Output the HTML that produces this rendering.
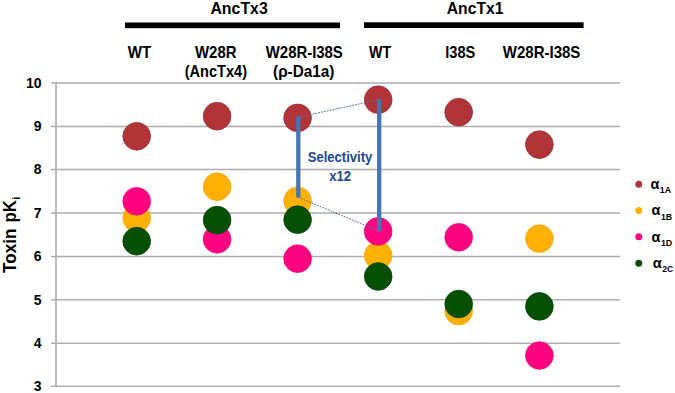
<!DOCTYPE html>
<html>
<head>
<meta charset="utf-8">
<style>
html,body{margin:0;padding:0;background:#fff;}
body{width:675px;height:393px;overflow:hidden;position:relative;font-family:"Liberation Sans",sans-serif;}
svg{position:absolute;left:0;top:0;}
text{font-family:"Liberation Sans",sans-serif;font-weight:bold;}
</style>
</head>
<body>
<svg width="675" height="393" viewBox="0 0 675 393">
  <rect x="125" y="22.5" width="215" height="5.7" fill="#000"/>
  <rect x="364" y="22.3" width="219.6" height="5.7" fill="#000"/>
    <text x="210.4" y="14.4" font-size="16.5" textLength="57.37" lengthAdjust="spacingAndGlyphs" fill="#000">AncTx3</text>
  <text x="446.81" y="14.4" font-size="16.5" textLength="56.63" lengthAdjust="spacingAndGlyphs" fill="#000">AncTx1</text>
  <text x="127.79" y="57.5" font-size="15.9" textLength="23.38" lengthAdjust="spacingAndGlyphs" fill="#000">WT</text>
  <text x="194.99" y="57.5" font-size="15.9" textLength="41.52" lengthAdjust="spacingAndGlyphs" fill="#000">W28R</text>
  <text x="184.78" y="76.5" font-size="15.9" textLength="62.25" lengthAdjust="spacingAndGlyphs" fill="#000">(AncTx4)</text>
  <text x="265.79" y="57.5" font-size="15.9" textLength="77.0" lengthAdjust="spacingAndGlyphs" fill="#000">W28R-I38S</text>
  <text x="273.04" y="76.5" font-size="15.9" textLength="61.32" lengthAdjust="spacingAndGlyphs" fill="#000">(ρ-Da1a)</text>
  <text x="368.99" y="57.6" font-size="15.9" textLength="22.17" lengthAdjust="spacingAndGlyphs" fill="#000">WT</text>
  <text x="445.22" y="57.6" font-size="15.9" textLength="30.05" lengthAdjust="spacingAndGlyphs" fill="#000">I38S</text>
  <text x="502.79" y="57.6" font-size="15.9" textLength="77.6" lengthAdjust="spacingAndGlyphs" fill="#000">W28R-I38S</text>
  <text x="307.82" y="162.4" font-size="14" textLength="64.45" lengthAdjust="spacingAndGlyphs" fill="#1a4793">Selectivity</text>
  <text x="329.31" y="180.7" font-size="14" textLength="21.81" lengthAdjust="spacingAndGlyphs" fill="#1a4793">x12</text>
  <line x1="56" y1="82.3" x2="56" y2="386.8" stroke="#bcbcbc" stroke-width="2"/>
  <g stroke="#adadad" stroke-width="1.5">
    <line x1="51" y1="83.0" x2="620" y2="83.0"/>
    <line x1="51" y1="126.5" x2="620" y2="126.5"/>
    <line x1="51" y1="169.5" x2="620" y2="169.5"/>
    <line x1="51" y1="213.0" x2="620" y2="213.0"/>
    <line x1="51" y1="256.6" x2="620" y2="256.6"/>
    <line x1="51" y1="299.8" x2="620" y2="299.8"/>
    <line x1="51" y1="343.2" x2="620" y2="343.2"/>
    <line x1="51" y1="386.3" x2="620" y2="386.3"/>
  </g>
  <g font-size="14" text-anchor="end" fill="#000">
    <text x="41.6" y="87.8">10</text>
    <text x="41.6" y="131.3">9</text>
    <text x="41.6" y="174.3">8</text>
    <text x="41.6" y="217.8">7</text>
    <text x="41.6" y="261.4">6</text>
    <text x="41.6" y="304.6">5</text>
    <text x="41.6" y="348.0">4</text>
    <text x="41.6" y="391.1">3</text>
  </g>
  <text transform="translate(15.8,272.8) rotate(-90)" x="-0.19" y="0" font-size="18.6" textLength="44.32" lengthAdjust="spacingAndGlyphs">Toxin</text>
  <text transform="translate(15.8,221.3) rotate(-90)" x="-1.11" y="0" font-size="18.6" textLength="22.36" lengthAdjust="spacingAndGlyphs">pK</text>
  <text transform="translate(20.2,199.8) rotate(-90)" x="0" y="0" font-size="11.5">i</text>
  <g fill="#b03438" stroke="#a02d33" stroke-width="0.8">
    <circle cx="136.7" cy="136.3" r="13.85"/>
    <circle cx="217.1" cy="116.2" r="13.85"/>
    <circle cx="297.6" cy="117.9" r="13.85"/>
    <circle cx="378.2" cy="99.7" r="13.85"/>
    <circle cx="458.7" cy="112.2" r="13.85"/>
    <circle cx="539.4" cy="144.6" r="13.85"/>
  </g>
  <g fill="#ffb005" stroke="#f5a800" stroke-width="0.8">
    <circle cx="136.7" cy="218.1" r="13.85"/>
    <circle cx="217.1" cy="186.7" r="13.85"/>
    <circle cx="297.6" cy="200.9" r="13.85"/>
    <circle cx="378.2" cy="255.5" r="13.85"/>
    <circle cx="458.7" cy="311.1" r="13.85"/>
    <circle cx="539.4" cy="238.6" r="13.85"/>
  </g>
  <g fill="#ff0480" stroke="#ee0478" stroke-width="0.8">
    <circle cx="136.7" cy="201.3" r="13.85"/>
    <circle cx="217.1" cy="239.3" r="13.85"/>
    <circle cx="297.6" cy="258.7" r="13.85"/>
    <circle cx="378.2" cy="231.4" r="13.85"/>
    <circle cx="458.7" cy="237.3" r="13.85"/>
    <circle cx="539.4" cy="355.5" r="13.85"/>
  </g>
  <g fill="#055005" stroke="#044504" stroke-width="0.8">
    <circle cx="136.7" cy="241.2" r="13.85"/>
    <circle cx="217.1" cy="220.1" r="13.85"/>
    <circle cx="297.6" cy="219.7" r="13.85"/>
    <circle cx="378.2" cy="276.5" r="13.85"/>
    <circle cx="458.7" cy="304.0" r="13.85"/>
    <circle cx="539.4" cy="306.4" r="13.85"/>
  </g>
  <g stroke="#52739f" stroke-width="1" stroke-dasharray="1.8 1.1" fill="none">
    <line x1="298.3" y1="117.3" x2="378.8" y2="99.6"/>
    <line x1="298.3" y1="197.3" x2="378.8" y2="231"/>
  </g>
  <line x1="298.3" y1="116.4" x2="298.3" y2="197.6" stroke="#4476b2" stroke-width="4.3"/>
  <line x1="379.2" y1="99.1" x2="379.2" y2="231.6" stroke="#4476b2" stroke-width="4.3"/>
  <circle cx="638.8" cy="184.2" r="3.5" fill="#b03438"/>
  <circle cx="638.8" cy="210.5" r="3.5" fill="#ffb005"/>
  <circle cx="638.8" cy="236.8" r="3.5" fill="#ff0480"/>
  <circle cx="638.8" cy="263.2" r="3.5" fill="#055005"/>
  <g font-size="14.5" fill="#000">
    <text x="650.5" y="188.6">α</text>
    <text x="651.6" y="215">α</text>
    <text x="651.6" y="241.5">α</text>
    <text x="652.8" y="267.6">α</text>
  </g>
  <g font-size="9.8" fill="#000">
    <text x="659.8" y="193.2" textLength="11.2" lengthAdjust="spacingAndGlyphs">1A</text>
    <text x="660.9" y="220.3" textLength="11.2" lengthAdjust="spacingAndGlyphs">1B</text>
    <text x="660.9" y="246.3" textLength="11.4" lengthAdjust="spacingAndGlyphs">1D</text>
    <text x="662.3" y="272.2" textLength="11" lengthAdjust="spacingAndGlyphs">2C</text>
  </g>
</svg>
</body>
</html>
